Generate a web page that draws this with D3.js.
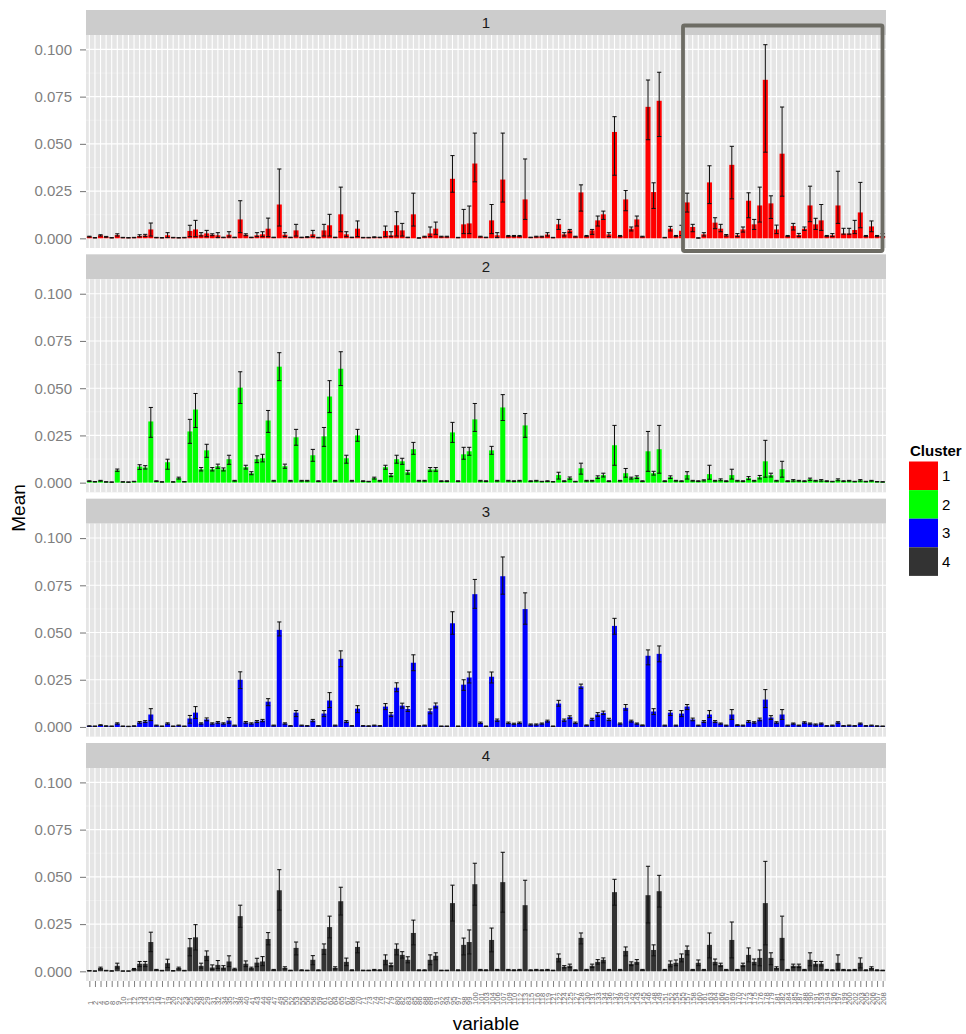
<!DOCTYPE html>
<html>
<head>
<meta charset="utf-8">
<script src="https://cdn.jsdelivr.net/npm/d3@7"></script>
<style>
  body { margin: 0; background: #ffffff; }
  text { font-family: "Liberation Sans", Arial, sans-serif; }
</style>
</head>
<body>
<script>
// Variable identifiers along the x axis
const variables = [
  1,2,4,6,8,9,
  10,11,12,13,14,15,16,17,19,20,22,23,25,26,28,29,31,32,34,35,37,38,40,41,43,44,46,47,49,50,
  52,53,55,56,58,59,61,62,64,65,67,68,70,71,73,74,76,77,79,80,82,83,85,86,88,89,91,92,94,95,97,98,99,
  100,101,103,104,106,107,109,110,112,113,115,116,118,119,121,122,124,125,127,128,130,131,133,134,
  136,137,139,140,142,143,145,146,148,149,151,152,154,155,157,158,160,161,163,164,166,167,169,170,
  172,173,175,176,178,179,181,182,184,185,187,188,190,191,193,194,196,197,199,200,202,203,205,206,207,208
].map(String);

const clusters = ["1", "2", "3", "4"];
const clusterColors = ["#FF0000", "#00FF00", "#0000FF", "#333333"];
const yTicks = [0, 0.025, 0.05, 0.075, 0.1];
const yMinorTicks = [0.0125, 0.0375, 0.0625, 0.0875];

// Cluster 1
const meanC1 = [
  0.0009,0.0003,0.0016,0.0008,0.0003,0.0017,0.0004,0.0003,0.0004,0.0012,
  0.0015,0.0047,0.0004,0.0003,0.0016,0.0004,0.0003,0.0004,0.0039,0.0047,
  0.0019,0.0026,0.0019,0.0016,0.0005,0.0019,0.0005,0.0100,0.0019,0.0005,
  0.0016,0.0021,0.0051,0.0005,0.0179,0.0019,0.0005,0.0042,0.0005,0.0007,
  0.0021,0.0004,0.0042,0.0069,0.0005,0.0127,0.0021,0.0005,0.0051,0.0004,
  0.0004,0.0006,0.0005,0.0039,0.0016,0.0069,0.0042,0.0005,0.0127,0.0002,
  0.0009,0.0026,0.0051,0.0009,0.0009,0.0315,0.0004,0.0074,0.0079,0.0396,
  0.0009,0.0005,0.0095,0.0016,0.0311,0.0012,0.0012,0.0012,0.0206,0.0005,
  0.0009,0.0009,0.0020,0.0004,0.0074,0.0021,0.0042,0.0009,0.0243,0.0012,
  0.0042,0.0095,0.0127,0.0021,0.0563,0.0012,0.0206,0.0051,0.0100,0.0009,
  0.0696,0.0245,0.0728,0.0004,0.0051,0.0012,0.0040,0.0190,0.0060,0.0002,
  0.0021,0.0296,0.0083,0.0051,0.0016,0.0389,0.0016,0.0047,0.0199,0.0074,
  0.0174,0.0839,0.0185,0.0047,0.0448,0.0012,0.0065,0.0018,0.0051,0.0174,
  0.0074,0.0095,0.0012,0.0016,0.0174,0.0025,0.0025,0.0044,0.0137,0.0012,
  0.0063,0.0012,0.0012
];
const lowerC1 = [
  0.0007,0.0002,0.0012,0.0006,0.0002,0.0012,0.0003,0.0002,0.0003,0.0008,
  0.0010,0.0012,0.0003,0.0002,0.0004,0.0003,0.0002,0.0003,0.0009,0.0009,
  0.0012,0.0009,0.0014,0.0004,0.0004,0.0007,0.0004,0.0030,0.0014,0.0004,
  0.0009,0.0009,0.0009,0.0004,0.0065,0.0009,0.0004,0.0012,0.0004,0.0005,
  0.0009,0.0003,0.0012,0.0012,0.0004,0.0035,0.0009,0.0004,0.0009,0.0003,
  0.0003,0.0004,0.0004,0.0009,0.0009,0.0012,0.0012,0.0004,0.0065,0.0001,
  0.0007,0.0009,0.0021,0.0007,0.0007,0.0244,0.0003,0.0025,0.0025,0.0299,
  0.0007,0.0004,0.0025,0.0004,0.0192,0.0009,0.0009,0.0009,0.0100,0.0004,
  0.0007,0.0007,0.0012,0.0003,0.0047,0.0012,0.0030,0.0007,0.0144,0.0009,
  0.0021,0.0065,0.0100,0.0009,0.0334,0.0009,0.0146,0.0039,0.0065,0.0007,
  0.0522,0.0158,0.0539,0.0003,0.0039,0.0009,0.0015,0.0139,0.0035,0.0001,
  0.0012,0.0184,0.0051,0.0035,0.0012,0.0209,0.0009,0.0033,0.0109,0.0047,
  0.0086,0.0456,0.0105,0.0025,0.0223,0.0009,0.0044,0.0009,0.0042,0.0088,
  0.0047,0.0042,0.0009,0.0009,0.0079,0.0022,0.0022,0.0025,0.0056,0.0009,
  0.0035,0.0009,0.0009
];
const upperC1 = [
  0.0011,0.0004,0.0019,0.0010,0.0004,0.0024,0.0005,0.0004,0.0005,0.0019,
  0.0021,0.0081,0.0005,0.0004,0.0030,0.0005,0.0004,0.0005,0.0069,0.0095,
  0.0030,0.0042,0.0024,0.0030,0.0006,0.0035,0.0006,0.0199,0.0024,0.0006,
  0.0030,0.0035,0.0107,0.0006,0.0367,0.0030,0.0006,0.0074,0.0006,0.0009,
  0.0042,0.0005,0.0074,0.0127,0.0006,0.0271,0.0035,0.0006,0.0092,0.0005,
  0.0005,0.0008,0.0006,0.0065,0.0035,0.0141,0.0079,0.0006,0.0239,0.0003,
  0.0011,0.0060,0.0086,0.0011,0.0011,0.0438,0.0005,0.0153,0.0171,0.0557,
  0.0011,0.0006,0.0179,0.0030,0.0557,0.0015,0.0015,0.0015,0.0420,0.0006,
  0.0011,0.0011,0.0030,0.0005,0.0100,0.0030,0.0047,0.0011,0.0283,0.0015,
  0.0047,0.0118,0.0144,0.0030,0.0644,0.0015,0.0253,0.0060,0.0118,0.0011,
  0.0838,0.0294,0.0879,0.0005,0.0063,0.0015,0.0069,0.0239,0.0074,0.0003,
  0.0030,0.0384,0.0109,0.0074,0.0020,0.0487,0.0025,0.0060,0.0241,0.0100,
  0.0271,0.1025,0.0225,0.0070,0.0695,0.0015,0.0079,0.0026,0.0060,0.0276,
  0.0106,0.0179,0.0015,0.0025,0.0355,0.0053,0.0053,0.0095,0.0296,0.0015,
  0.0092,0.0015,0.0025
];

// Cluster 2
const meanC2 = [
  0.0008,0.0005,0.0010,0.0004,0.0003,0.0065,0.0004,0.0003,0.0006,0.0085,
  0.0080,0.0324,0.0008,0.0004,0.0108,0.0004,0.0024,0.0005,0.0271,0.0387,
  0.0071,0.0171,0.0071,0.0087,0.0070,0.0124,0.0010,0.0503,0.0082,0.0050,
  0.0124,0.0129,0.0329,0.0010,0.0614,0.0087,0.0010,0.0240,0.0010,0.0010,
  0.0145,0.0008,0.0245,0.0456,0.0010,0.0603,0.0129,0.0010,0.0250,0.0008,
  0.0006,0.0024,0.0010,0.0082,0.0040,0.0124,0.0113,0.0055,0.0177,0.0010,
  0.0010,0.0070,0.0070,0.0008,0.0008,0.0266,0.0008,0.0150,0.0166,0.0335,
  0.0010,0.0008,0.0171,0.0010,0.0398,0.0010,0.0008,0.0010,0.0303,0.0008,
  0.0010,0.0006,0.0008,0.0005,0.0040,0.0008,0.0024,0.0006,0.0076,0.0010,
  0.0010,0.0029,0.0040,0.0008,0.0198,0.0010,0.0050,0.0024,0.0029,0.0008,
  0.0166,0.0050,0.0177,0.0008,0.0029,0.0010,0.0008,0.0040,0.0010,0.0008,
  0.0012,0.0045,0.0010,0.0015,0.0008,0.0040,0.0010,0.0008,0.0024,0.0010,
  0.0029,0.0113,0.0040,0.0010,0.0071,0.0008,0.0012,0.0010,0.0008,0.0018,
  0.0010,0.0012,0.0008,0.0006,0.0015,0.0008,0.0010,0.0006,0.0012,0.0006,
  0.0010,0.0005,0.0004
];
const lowerC2 = [
  0.0006,0.0004,0.0008,0.0003,0.0002,0.0060,0.0003,0.0002,0.0005,0.0070,
  0.0072,0.0240,0.0006,0.0003,0.0071,0.0003,0.0019,0.0004,0.0208,0.0292,
  0.0062,0.0134,0.0062,0.0076,0.0062,0.0097,0.0008,0.0419,0.0072,0.0042,
  0.0106,0.0110,0.0266,0.0008,0.0540,0.0076,0.0008,0.0198,0.0008,0.0008,
  0.0113,0.0006,0.0192,0.0371,0.0008,0.0514,0.0103,0.0008,0.0219,0.0006,
  0.0005,0.0019,0.0008,0.0071,0.0032,0.0103,0.0097,0.0045,0.0150,0.0008,
  0.0008,0.0060,0.0060,0.0006,0.0006,0.0213,0.0006,0.0124,0.0145,0.0271,
  0.0008,0.0006,0.0150,0.0008,0.0329,0.0008,0.0006,0.0008,0.0240,0.0006,
  0.0008,0.0005,0.0006,0.0004,0.0019,0.0006,0.0018,0.0005,0.0045,0.0008,
  0.0008,0.0022,0.0030,0.0006,0.0092,0.0008,0.0029,0.0019,0.0022,0.0006,
  0.0060,0.0040,0.0050,0.0006,0.0022,0.0008,0.0006,0.0019,0.0008,0.0006,
  0.0009,0.0018,0.0008,0.0010,0.0006,0.0019,0.0008,0.0006,0.0016,0.0008,
  0.0020,0.0029,0.0030,0.0008,0.0029,0.0006,0.0008,0.0008,0.0006,0.0012,
  0.0008,0.0008,0.0006,0.0005,0.0010,0.0006,0.0008,0.0005,0.0008,0.0005,
  0.0008,0.0004,0.0003
];
const upperC2 = [
  0.0010,0.0006,0.0012,0.0005,0.0004,0.0072,0.0005,0.0004,0.0007,0.0095,
  0.0090,0.0398,0.0010,0.0005,0.0124,0.0005,0.0029,0.0006,0.0335,0.0472,
  0.0080,0.0203,0.0080,0.0098,0.0078,0.0145,0.0012,0.0587,0.0092,0.0058,
  0.0142,0.0150,0.0382,0.0012,0.0688,0.0098,0.0012,0.0282,0.0012,0.0012,
  0.0176,0.0010,0.0292,0.0540,0.0012,0.0693,0.0145,0.0012,0.0282,0.0010,
  0.0007,0.0029,0.0012,0.0092,0.0048,0.0145,0.0129,0.0065,0.0213,0.0012,
  0.0012,0.0080,0.0080,0.0010,0.0010,0.0319,0.0010,0.0187,0.0187,0.0419,
  0.0012,0.0010,0.0192,0.0012,0.0466,0.0012,0.0010,0.0012,0.0366,0.0010,
  0.0012,0.0007,0.0010,0.0006,0.0055,0.0010,0.0030,0.0007,0.0103,0.0012,
  0.0012,0.0036,0.0050,0.0010,0.0303,0.0012,0.0075,0.0029,0.0036,0.0010,
  0.0271,0.0060,0.0303,0.0010,0.0036,0.0012,0.0010,0.0058,0.0012,0.0010,
  0.0015,0.0092,0.0012,0.0020,0.0010,0.0071,0.0012,0.0010,0.0032,0.0012,
  0.0038,0.0224,0.0050,0.0012,0.0113,0.0010,0.0016,0.0012,0.0010,0.0024,
  0.0012,0.0016,0.0010,0.0007,0.0020,0.0010,0.0012,0.0007,0.0016,0.0007,
  0.0012,0.0006,0.0005
];

// Cluster 3
const meanC3 = [
  0.0005,0.0004,0.0010,0.0005,0.0004,0.0018,0.0004,0.0003,0.0005,0.0024,
  0.0029,0.0066,0.0008,0.0004,0.0018,0.0004,0.0008,0.0004,0.0045,0.0076,
  0.0018,0.0040,0.0018,0.0024,0.0018,0.0034,0.0008,0.0250,0.0024,0.0018,
  0.0029,0.0034,0.0134,0.0008,0.0514,0.0018,0.0006,0.0076,0.0008,0.0006,
  0.0034,0.0006,0.0071,0.0140,0.0008,0.0361,0.0029,0.0006,0.0097,0.0006,
  0.0005,0.0008,0.0006,0.0108,0.0066,0.0208,0.0113,0.0095,0.0340,0.0006,
  0.0008,0.0083,0.0113,0.0004,0.0004,0.0549,0.0004,0.0224,0.0262,0.0703,
  0.0022,0.0004,0.0266,0.0036,0.0798,0.0022,0.0017,0.0022,0.0624,0.0013,
  0.0013,0.0018,0.0031,0.0004,0.0124,0.0036,0.0052,0.0022,0.0215,0.0009,
  0.0040,0.0066,0.0075,0.0040,0.0535,0.0018,0.0101,0.0031,0.0018,0.0009,
  0.0377,0.0082,0.0387,0.0008,0.0076,0.0008,0.0071,0.0108,0.0040,0.0008,
  0.0029,0.0066,0.0029,0.0018,0.0008,0.0066,0.0010,0.0008,0.0029,0.0024,
  0.0040,0.0145,0.0050,0.0024,0.0066,0.0008,0.0018,0.0008,0.0024,0.0018,
  0.0013,0.0018,0.0006,0.0008,0.0024,0.0006,0.0008,0.0006,0.0018,0.0006,
  0.0008,0.0005,0.0004
];
const lowerC3 = [
  0.0004,0.0003,0.0008,0.0004,0.0003,0.0015,0.0003,0.0002,0.0004,0.0020,
  0.0024,0.0034,0.0006,0.0003,0.0015,0.0003,0.0006,0.0003,0.0020,0.0045,
  0.0015,0.0033,0.0015,0.0020,0.0015,0.0020,0.0006,0.0203,0.0020,0.0015,
  0.0024,0.0028,0.0113,0.0006,0.0482,0.0015,0.0005,0.0055,0.0006,0.0005,
  0.0028,0.0005,0.0055,0.0103,0.0006,0.0319,0.0024,0.0005,0.0076,0.0005,
  0.0004,0.0006,0.0005,0.0092,0.0055,0.0187,0.0100,0.0082,0.0298,0.0005,
  0.0006,0.0070,0.0101,0.0003,0.0003,0.0491,0.0003,0.0194,0.0233,0.0628,
  0.0018,0.0003,0.0233,0.0030,0.0703,0.0018,0.0014,0.0018,0.0544,0.0010,
  0.0010,0.0015,0.0026,0.0003,0.0110,0.0030,0.0045,0.0018,0.0203,0.0007,
  0.0034,0.0056,0.0066,0.0034,0.0491,0.0015,0.0089,0.0026,0.0015,0.0007,
  0.0329,0.0066,0.0345,0.0006,0.0061,0.0006,0.0055,0.0092,0.0033,0.0006,
  0.0024,0.0050,0.0024,0.0015,0.0006,0.0040,0.0008,0.0006,0.0024,0.0020,
  0.0033,0.0103,0.0040,0.0020,0.0040,0.0006,0.0015,0.0006,0.0020,0.0015,
  0.0010,0.0015,0.0005,0.0006,0.0020,0.0005,0.0006,0.0005,0.0015,0.0005,
  0.0006,0.0004,0.0003
];
const upperC3 = [
  0.0006,0.0005,0.0012,0.0006,0.0005,0.0022,0.0005,0.0004,0.0006,0.0029,
  0.0034,0.0097,0.0010,0.0005,0.0022,0.0005,0.0010,0.0005,0.0061,0.0108,
  0.0022,0.0048,0.0022,0.0029,0.0022,0.0050,0.0010,0.0292,0.0029,0.0022,
  0.0034,0.0040,0.0150,0.0010,0.0556,0.0022,0.0007,0.0087,0.0010,0.0007,
  0.0040,0.0007,0.0087,0.0182,0.0010,0.0403,0.0034,0.0007,0.0113,0.0007,
  0.0006,0.0010,0.0007,0.0124,0.0076,0.0234,0.0126,0.0108,0.0382,0.0007,
  0.0010,0.0095,0.0127,0.0005,0.0005,0.0610,0.0005,0.0250,0.0291,0.0781,
  0.0026,0.0005,0.0291,0.0042,0.0900,0.0026,0.0020,0.0026,0.0710,0.0016,
  0.0016,0.0021,0.0036,0.0005,0.0141,0.0042,0.0059,0.0026,0.0227,0.0011,
  0.0046,0.0076,0.0084,0.0046,0.0575,0.0021,0.0119,0.0036,0.0021,0.0011,
  0.0408,0.0097,0.0429,0.0010,0.0087,0.0010,0.0087,0.0119,0.0047,0.0010,
  0.0034,0.0087,0.0034,0.0021,0.0010,0.0092,0.0012,0.0010,0.0034,0.0028,
  0.0047,0.0198,0.0060,0.0028,0.0092,0.0010,0.0021,0.0010,0.0028,0.0021,
  0.0016,0.0021,0.0007,0.0010,0.0028,0.0007,0.0010,0.0007,0.0021,0.0007,
  0.0010,0.0006,0.0005
];

// Cluster 4
const meanC4 = [
  0.0003,0.0001,0.0017,0.0004,0.0002,0.0029,0.0001,0.0001,0.0012,0.0040,
  0.0040,0.0155,0.0008,0.0004,0.0043,0.0003,0.0017,0.0004,0.0127,0.0180,
  0.0029,0.0082,0.0020,0.0034,0.0020,0.0052,0.0012,0.0292,0.0040,0.0017,
  0.0046,0.0052,0.0171,0.0008,0.0429,0.0018,0.0005,0.0124,0.0006,0.0005,
  0.0061,0.0006,0.0119,0.0234,0.0018,0.0371,0.0050,0.0006,0.0129,0.0005,
  0.0005,0.0008,0.0006,0.0061,0.0034,0.0119,0.0087,0.0061,0.0203,0.0006,
  0.0006,0.0061,0.0082,0.0005,0.0005,0.0361,0.0006,0.0140,0.0155,0.0461,
  0.0008,0.0006,0.0166,0.0008,0.0472,0.0008,0.0006,0.0008,0.0350,0.0006,
  0.0008,0.0006,0.0008,0.0005,0.0071,0.0024,0.0029,0.0006,0.0177,0.0008,
  0.0029,0.0050,0.0061,0.0008,0.0419,0.0008,0.0108,0.0040,0.0050,0.0008,
  0.0403,0.0113,0.0424,0.0008,0.0040,0.0045,0.0071,0.0113,0.0008,0.0045,
  0.0008,0.0140,0.0050,0.0034,0.0008,0.0166,0.0008,0.0034,0.0087,0.0050,
  0.0071,0.0361,0.0071,0.0018,0.0177,0.0008,0.0029,0.0029,0.0008,0.0061,
  0.0040,0.0040,0.0008,0.0006,0.0045,0.0008,0.0006,0.0008,0.0045,0.0006,
  0.0018,0.0006,0.0005
];
const lowerC4 = [
  0.0002,0.0001,0.0012,0.0003,0.0001,0.0017,0.0001,0.0001,0.0009,0.0025,
  0.0025,0.0104,0.0006,0.0003,0.0020,0.0002,0.0012,0.0003,0.0082,0.0113,
  0.0017,0.0057,0.0010,0.0015,0.0012,0.0025,0.0008,0.0233,0.0025,0.0012,
  0.0025,0.0030,0.0140,0.0006,0.0324,0.0012,0.0004,0.0087,0.0004,0.0004,
  0.0035,0.0004,0.0090,0.0177,0.0012,0.0298,0.0030,0.0004,0.0098,0.0004,
  0.0004,0.0006,0.0004,0.0035,0.0025,0.0087,0.0070,0.0045,0.0140,0.0004,
  0.0004,0.0035,0.0061,0.0004,0.0004,0.0266,0.0004,0.0087,0.0092,0.0350,
  0.0006,0.0004,0.0103,0.0006,0.0313,0.0006,0.0004,0.0006,0.0219,0.0004,
  0.0006,0.0004,0.0006,0.0004,0.0050,0.0018,0.0020,0.0004,0.0145,0.0006,
  0.0020,0.0038,0.0045,0.0006,0.0350,0.0006,0.0082,0.0030,0.0038,0.0006,
  0.0256,0.0082,0.0340,0.0006,0.0024,0.0030,0.0050,0.0087,0.0006,0.0030,
  0.0006,0.0071,0.0035,0.0025,0.0006,0.0071,0.0006,0.0025,0.0050,0.0035,
  0.0029,0.0140,0.0035,0.0012,0.0061,0.0006,0.0020,0.0020,0.0006,0.0029,
  0.0028,0.0028,0.0006,0.0004,0.0008,0.0006,0.0004,0.0006,0.0018,0.0004,
  0.0012,0.0004,0.0004
];
const upperC4 = [
  0.0004,0.0002,0.0022,0.0005,0.0003,0.0043,0.0002,0.0002,0.0015,0.0052,
  0.0052,0.0207,0.0010,0.0005,0.0064,0.0004,0.0022,0.0005,0.0173,0.0247,
  0.0043,0.0108,0.0034,0.0057,0.0030,0.0082,0.0016,0.0350,0.0055,0.0022,
  0.0069,0.0078,0.0205,0.0010,0.0538,0.0024,0.0006,0.0155,0.0008,0.0006,
  0.0083,0.0008,0.0145,0.0292,0.0024,0.0445,0.0070,0.0008,0.0155,0.0006,
  0.0006,0.0010,0.0008,0.0087,0.0043,0.0145,0.0104,0.0077,0.0271,0.0008,
  0.0008,0.0087,0.0098,0.0006,0.0006,0.0456,0.0008,0.0176,0.0219,0.0572,
  0.0010,0.0008,0.0229,0.0010,0.0630,0.0010,0.0008,0.0010,0.0482,0.0008,
  0.0010,0.0008,0.0010,0.0006,0.0092,0.0030,0.0038,0.0008,0.0203,0.0010,
  0.0038,0.0062,0.0071,0.0010,0.0487,0.0010,0.0129,0.0050,0.0062,0.0010,
  0.0556,0.0140,0.0508,0.0010,0.0055,0.0060,0.0092,0.0134,0.0010,0.0060,
  0.0010,0.0203,0.0065,0.0043,0.0010,0.0261,0.0010,0.0043,0.0124,0.0065,
  0.0113,0.0582,0.0098,0.0024,0.0292,0.0010,0.0038,0.0038,0.0010,0.0098,
  0.0052,0.0052,0.0010,0.0008,0.0087,0.0010,0.0008,0.0010,0.0071,0.0008,
  0.0024,0.0008,0.0006
];

const meanSeries = [meanC1, meanC2, meanC3, meanC4];
const lowerSeries = [lowerC1, lowerC2, lowerC3, lowerC4];
const upperSeries = [upperC1, upperC2, upperC3, upperC4];

// ---- layout ----
const W = 966, H = 1034;
const plotLeft = 86, plotRight = 886;
const top0 = 10, stripH = 25, panelH = 213, panelStep = 244.33;
const FONT = '"Liberation Sans", Arial, sans-serif';

const svg = d3.select("body").append("svg")
  .attr("width", W).attr("height", H)
  .attr("font-family", FONT);

// discrete x scale with the usual 0.6-step expansion on both sides
const x = d3.scalePoint().domain(variables).range([plotLeft, plotRight]).padding(0.6);
const step = x.step();
const barW = step * 0.9;
const capW = step * 0.75;

// shared y scale, expanded by 5% of the data range
const yMax = d3.max(upperSeries.flat());
const yMin = Math.min(0, d3.min(lowerSeries.flat()));
const yRange = yMax - yMin;
const y = d3.scaleLinear()
  .domain([yMin - 0.05 * yRange, yMax + 0.05 * yRange])
  .range([panelH, 0]);

clusters.forEach((cl, k) => {
  const g = svg.append("g").attr("transform", `translate(0,${top0 + k * panelStep})`);

  // facet strip
  g.append("rect")
    .attr("x", plotLeft).attr("y", 0)
    .attr("width", plotRight - plotLeft).attr("height", stripH)
    .attr("fill", "#cccccc");
  g.append("text")
    .attr("x", (plotLeft + plotRight) / 2).attr("y", stripH / 2)
    .attr("dy", "0.36em").attr("text-anchor", "middle")
    .attr("font-size", 15).attr("fill", "#1a1a1a")
    .text(cl);

  const p = g.append("g").attr("transform", `translate(0,${stripH})`);

  p.append("rect")
    .attr("x", plotLeft).attr("y", 0)
    .attr("width", plotRight - plotLeft).attr("height", panelH)
    .attr("fill", "#e5e5e5");

  p.selectAll("line.minor").data(yMinorTicks).join("line")
    .attr("class", "minor")
    .attr("x1", plotLeft).attr("x2", plotRight)
    .attr("y1", d => y(d)).attr("y2", d => y(d))
    .attr("stroke", "#f2f2f2").attr("stroke-width", 0.6);

  p.selectAll("line.majorY").data(yTicks).join("line")
    .attr("class", "majorY")
    .attr("x1", plotLeft).attr("x2", plotRight)
    .attr("y1", d => y(d)).attr("y2", d => y(d))
    .attr("stroke", "#ffffff").attr("stroke-width", 1.1);

  p.selectAll("line.majorX").data(variables).join("line")
    .attr("class", "majorX")
    .attr("x1", d => x(d)).attr("x2", d => x(d))
    .attr("y1", 0).attr("y2", panelH)
    .attr("stroke", "#ffffff").attr("stroke-width", 1.1);

  const rows = variables.map((v, i) => ({
    v, m: meanSeries[k][i], lo: lowerSeries[k][i], hi: upperSeries[k][i]
  }));

  // bars
  p.selectAll("rect.bar").data(rows).join("rect")
    .attr("class", "bar")
    .attr("x", d => x(d.v) - barW / 2)
    .attr("width", barW)
    .attr("y", d => y(Math.max(0, d.m)))
    .attr("height", d => Math.abs(y(0) - y(d.m)))
    .attr("fill", clusterColors[k]);

  // error bars
  const eb = p.selectAll("g.eb").data(rows).join("g").attr("class", "eb")
    .attr("stroke", "#111111").attr("stroke-width", 1.05);
  eb.append("line")
    .attr("x1", d => x(d.v)).attr("x2", d => x(d.v))
    .attr("y1", d => y(d.lo)).attr("y2", d => y(d.hi));
  eb.append("line")
    .attr("x1", d => x(d.v) - capW / 2).attr("x2", d => x(d.v) + capW / 2)
    .attr("y1", d => y(d.lo)).attr("y2", d => y(d.lo));
  eb.append("line")
    .attr("x1", d => x(d.v) - capW / 2).attr("x2", d => x(d.v) + capW / 2)
    .attr("y1", d => y(d.hi)).attr("y2", d => y(d.hi));

  // y axis
  const ya = p.append("g").attr("transform", `translate(${plotLeft},0)`)
    .call(d3.axisLeft(y).tickValues(yTicks).tickFormat(d3.format(".3f"))
      .tickSize(6).tickPadding(8));
  ya.select(".domain").remove();
  ya.selectAll(".tick line").attr("stroke", "#7f7f7f").attr("stroke-width", 1.1);
  ya.selectAll(".tick text").attr("fill", "#7f7f7f").attr("font-size", 15)
    .attr("font-family", FONT);

  // bottom axis on the last facet
  if (k === clusters.length - 1) {
    const xa = p.append("g").attr("transform", `translate(0,${panelH})`)
      .call(d3.axisBottom(x).tickSize(6).tickPadding(0));
    xa.select(".domain").remove();
    xa.selectAll(".tick line").attr("stroke", "#7f7f7f").attr("stroke-width", 1);
    xa.selectAll(".tick text")
      .attr("font-family", FONT).attr("font-size", 7.6).attr("fill", "#6b6b6b")
      .attr("transform", "rotate(-90)")
      .attr("x", -24).attr("y", 0).attr("dy", "0.36em")
      .style("text-anchor", "start");
  }
});

// highlight box around the right part of the first facet
svg.append("rect")
  .attr("x", 683).attr("y", 25.5)
  .attr("width", 199.5).attr("height", 225.5)
  .attr("fill", "none").attr("stroke", "#6d6c64").attr("stroke-width", 3.8)
  .attr("rx", 1.5);

// axis titles
svg.append("text")
  .attr("transform", "translate(25,508) rotate(-90)")
  .attr("text-anchor", "middle").attr("font-size", 19).attr("fill", "#000")
  .text("Mean");
svg.append("text")
  .attr("x", (plotLeft + plotRight) / 2).attr("y", 1030)
  .attr("text-anchor", "middle").attr("font-size", 19).attr("fill", "#000")
  .text("variable");

// legend
const lg = svg.append("g").attr("transform", "translate(909,0)");
lg.append("text").attr("x", 1).attr("y", 456)
  .attr("font-size", 15).attr("font-weight", "bold").attr("fill", "#000")
  .text("Cluster");
clusters.forEach((cl, i) => {
  lg.append("rect").attr("x", 0).attr("y", 461.5 + i * 28.6)
    .attr("width", 29).attr("height", 28.6).attr("fill", clusterColors[i]);
  lg.append("text").attr("x", 33).attr("y", 461.5 + i * 28.6 + 14.3)
    .attr("dy", "0.36em").attr("font-size", 15).attr("fill", "#000")
    .text(cl);
});
</script>
</body>
</html>
